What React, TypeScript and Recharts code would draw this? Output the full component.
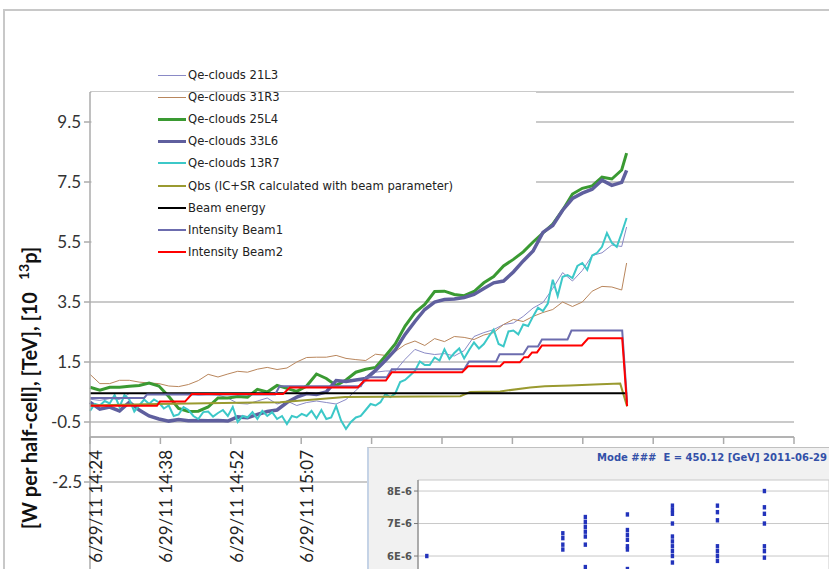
import React from "react";
import {
  LineChart,
  Line,
  XAxis,
  YAxis,
  CartesianGrid,
  ReferenceLine,
  ReferenceArea,
  Legend,
  ScatterChart,
  Scatter,
} from "recharts";

// time axis: minutes since 6/29/11 14:24
const xTicks = [0, 14.3, 28.6, 42.9, 57.2, 71.5, 85.8, 100.1, 114.4, 128.7, 143];
const xTickLabels = [
  "6/29/11 14:24",
  "6/29/11 14:38",
  "6/29/11 14:52",
  "6/29/11 15:07",
  "6/29/11 15:21",
  "6/29/11 15:35",
  "6/29/11 15:50",
  "6/29/11 16:04",
  "6/29/11 16:18",
  "6/29/11 16:33",
  "6/29/11 16:47",
];
const yTicks = [-0.5, 1.5, 3.5, 5.5, 7.5, 9.5];

// sample grids (2-minute and 1-minute)
const minutes2 = [...Array.from({ length: 55 }, (_, i) => i * 2), 109];
const minutes1 = Array.from({ length: 110 }, (_, i) => i);

const qe21L3 = [
  0.26, 0.22, 0.28, 0.25, 0.45, 0.45, 0.44, 0.44, 0.42, 0.44, 0.45, 0.4, 0.42, 0.4, 0.3, 0.12, 0.1, 0.2,
  0.3, 0.1, 0.2, 0.05, 0.15, 0.2, 0.15, 0.1, 0.25, 0.55, 0.85, 1.16, 1.2, 1.2, 1.59, 1.92, 1.8, 1.75, 1.78,
  1.7, 1.88, 2.35, 2.48, 2.58, 2.75, 2.8, 3.02, 3.3, 3.48, 3.95, 4.48, 4.2, 4.55, 5.05, 5.14, 5.4, 5.35, 6.0,
];
const qe31R3 = [
  1.09, 0.78, 0.78, 0.89, 0.89, 0.83, 0.8, 0.78, 0.7, 0.68, 0.75, 0.88, 1.09, 1.0, 1.1, 1.19, 1.16, 1.26,
  1.32, 1.25, 1.3, 1.5, 1.65, 1.66, 1.66, 1.72, 1.62, 1.58, 1.55, 1.76, 1.72, 1.85, 2.08, 2.2, 2.05, 2.28,
  2.18, 2.35, 2.32, 2.25, 2.4, 2.48, 2.75, 2.92, 2.85, 3.02, 3.15, 3.25, 3.5, 3.35, 3.5, 3.86, 4.02, 4.0,
  3.9, 4.8,
];
const qe25L4 = [
  0.66, 0.56, 0.66, 0.66, 0.69, 0.72, 0.8, 0.7, 0.35, -0.05, -0.15, -0.14, 0.0, 0.3, 0.3, 0.35, 0.33, 0.59,
  0.5, 0.72, 0.62, 0.52, 0.7, 1.1, 0.95, 0.72, 0.9, 1.16, 1.26, 1.32, 1.7, 2.1, 2.7, 3.15, 3.42, 3.85, 3.86,
  3.75, 3.71, 3.85, 4.14, 4.35, 4.7, 4.92, 5.17, 5.5, 5.8, 6.1, 6.56, 7.1, 7.29, 7.37, 7.66, 7.6, 7.9, 8.46,
];
const qe33L6 = [
  0.16, -0.07, 0.0, -0.13, 0.16, -0.1, -0.3, -0.4, -0.47, -0.42, -0.46, -0.45, -0.46, -0.45, -0.47, -0.33,
  -0.36, -0.25, -0.15, -0.1, 0.15, 0.33, 0.45, 0.42, 0.5, 0.88, 0.85, 0.9, 0.95, 1.22, 1.55, 1.9, 2.42, 2.85,
  3.25, 3.5, 3.58, 3.6, 3.65, 3.75, 3.95, 4.14, 4.2, 4.5, 4.87, 5.2, 5.82, 6.05, 6.56, 6.95, 7.13, 7.26, 7.56,
  7.39, 7.49, 7.89,
];
const qe13R7 = [
  -0.13, 0.1, 0.05, 0.2, 0.12, 0.4, 0.0, 0.4, 0.25, -0.15,
  0.05, 0.25, 0.1, 0.25, 0.15, -0.05, 0.05, -0.3, -0.25, 0.0,
  -0.1, -0.3, -0.4, -0.17, -0.15, -0.32, -0.2, -0.1, -0.3, 0.0,
  -0.5, -0.3, -0.35, -0.17, -0.4, -0.13, -0.3, -0.17, -0.4, -0.3,
  -0.57, -0.3, -0.35, -0.23, -0.3, -0.13, -0.38, -0.1, -0.4, -0.35,
  0.03, -0.45, -0.73, -0.5, -0.35, -0.3, -0.1, 0.1, 0.05, 0.16,
  0.43, 0.33, 0.45, 0.83, 0.9, 1.05, 1.2, 1.52, 1.4, 1.4,
  1.65, 1.55, 1.92, 1.6, 1.8, 1.95, 1.62, 1.9, 2.15, 1.95,
  2.1, 2.35, 2.58, 2.1, 2.02, 2.52, 2.55, 2.42, 2.75, 2.7,
  3.02, 3.31, 3.2, 3.45, 4.24, 3.7, 4.34, 4.4, 4.3, 4.7,
  4.8, 4.57, 5.05, 5.14, 5.34, 5.8, 5.47, 5.34, 5.8, 6.3,
];

const qbsT = [0, 13.6, 38.6, 51.8, 75.2, 77.2, 83.3, 89.4, 92.4, 97.5, 103.6, 107.7, 109.1];
const qbsV = [0.05, 0.1, 0.16, 0.33, 0.36, 0.5, 0.52, 0.65, 0.69, 0.72, 0.76, 0.78, 0.02];

const energyT = [0, 109.1];
const energyV = [0.46, 0.46];

const beam1T = [0, 11, 11.6, 37.6, 38.5, 55, 56, 60.3, 61.3, 76, 77, 82.5, 83.2, 88, 89, 91, 91.8, 97, 97.8, 108.1, 109.1];
const beam1V = [0.3, 0.3, 0.42, 0.42, 0.69, 0.69, 0.99, 0.99, 1.26, 1.26, 1.52, 1.52, 1.76, 1.76, 2.02, 2.02, 2.25, 2.25, 2.55, 2.55, 0.15];

const beam2T = [0, 13.6, 14.2, 19.3, 20.7, 39.2, 40.6, 54.4, 55.7, 60.1, 61.3, 75.6, 76.8, 83.3, 84.1, 87.3, 88.2, 89.0, 89.8, 90.8, 91.8, 99.9, 101.2, 108.1, 109.1];
const beam2V = [0.04, 0.04, 0.18, 0.18, 0.43, 0.43, 0.65, 0.65, 0.88, 0.88, 1.16, 1.16, 1.36, 1.36, 1.49, 1.49, 1.66, 1.66, 1.82, 1.82, 2.05, 2.05, 2.29, 2.29, 0.03];

// inset screenshot (values in units of 1E-6)
const insetX = [0.09, 1.48, 1.71, 2.14, 2.6, 3.06, 3.54];
const insetY = [
  [6.0],
  [6.7, 6.55, 6.35, 6.2],
  [7.2, 7.05, 6.9, 6.75, 6.6, 6.35, 5.66],
  [7.28, 6.8, 6.65, 6.5, 6.3, 6.2, 5.6],
  [7.55, 7.42, 7.3, 7.0, 6.6, 6.45, 6.3, 6.15, 6.0, 5.8],
  [7.55, 7.35, 7.1, 6.3, 6.15, 6.0, 5.85],
  [8.0, 7.5, 7.3, 7.0, 6.3, 6.15, 5.95],
];

const pts = (ts: number[], vs: number[]) => ts.map((t, i) => ({ t, v: vs[i] }));

const series = [
  { name: "Qe-clouds 21L3", data: pts(minutes2, qe21L3), color: "#8a8ac6", width: 1 },
  { name: "Qe-clouds 31R3", data: pts(minutes2, qe31R3), color: "#b9865c", width: 1 },
  { name: "Qe-clouds 25L4", data: pts(minutes2, qe25L4), color: "#3a9a32", width: 3 },
  { name: "Qe-clouds 33L6", data: pts(minutes2, qe33L6), color: "#5f5f9e", width: 3.5 },
  { name: "Qe-clouds 13R7", data: pts(minutes1, qe13R7), color: "#3cc8c8", width: 2 },
  { name: "Qbs (IC+SR calculated with beam parameter)", data: pts(qbsT, qbsV), color: "#9a9a30", width: 2 },
  { name: "Beam energy", data: pts(energyT, energyV), color: "#000000", width: 2 },
  { name: "Intensity Beam1", data: pts(beam1T, beam1V), color: "#6c6cae", width: 2 },
  { name: "Intensity Beam2", data: pts(beam2T, beam2V), color: "#ff0000", width: 2 },
];

const insetPts = insetX.flatMap((x, i) => insetY[i].map((y) => ({ x, y })));

const axisColor = "#ababab";
const gridColor = "#b9b9b9";

function XTick(props: any) {
  const { x, y, payload } = props;
  const i = xTicks.indexOf(payload.value);
  return (
    <text
      transform={`translate(${x + 12},${y + 4}) rotate(-90)`}
      textAnchor="end"
      fontFamily="Lato"
      fontSize={17}
      fill="#222"
    >
      {xTickLabels[i] ?? ""}
    </text>
  );
}

function YTitle() {
  return (
    <text
      transform="translate(37,388) rotate(-90)"
      textAnchor="middle"
      fontFamily="Lato"
      fontWeight="bold"
      fontSize={20}
      fill="#111"
    >
      [W per half-cell], [TeV], [10
      <tspan dx={12} dy={-8} fontSize={14}>
        13
      </tspan>
      <tspan dy={8} fontSize={20}>
        p]
      </tspan>
    </text>
  );
}

function MinusTick(props: any) {
  const vb = props.viewBox || {};
  return (
    <g>
      <line x1={vb.x - 6} x2={vb.x} y1={vb.y} y2={vb.y} stroke={axisColor} strokeWidth={1.5} />
      <text x={vb.x - 8} y={vb.y} dy="0.355em" textAnchor="end" fontFamily="Lato" fontSize={17} fill="#333">
        -2.5
      </text>
    </g>
  );
}

function LegendBox() {
  return (
    <div style={{ position: "relative", width: 445, height: 186 }}>
      {series.map((s, i) => (
        <div
          key={s.name}
          style={{
            position: "absolute",
            left: 67,
            top: 4 + i * 22.1,
            height: 18,
            display: "flex",
            alignItems: "center",
            fontFamily: "'DejaVu Sans'",
            fontSize: 11.6,
            color: "#222",
            whiteSpace: "nowrap",
          }}
        >
          <span
            style={{
              display: "inline-block",
              width: 28,
              height: Math.min(s.width, 3),
              background: s.color,
              marginRight: 2,
            }}
          />
          {s.name}
        </div>
      ))}
    </div>
  );
}

function InsetDot(props: any) {
  const { cx, cy } = props;
  return <rect x={cx - 1.7} y={cy - 2.2} width={3.4} height={4.4} fill="#2233bb" />;
}

export default function App() {
  return (
    <div
      style={{
        position: "absolute",
        left: 0,
        top: 0,
        width: 829,
        height: 569,
        overflow: "hidden",
        background: "#fff",
      }}
    >
      <div
        style={{
          position: "absolute",
          left: 3,
          top: 9,
          right: 0,
          bottom: 0,
          borderTop: "2px solid #c8c8c8",
          borderLeft: "2px solid #c8c8c8",
        }}
      />
      <div style={{ position: "absolute", left: 0, top: 0 }}>
        <LineChart width={829} height={569} margin={{ top: 92, right: 35, bottom: 0, left: 0 }}>
          <CartesianGrid vertical={false} stroke={gridColor} strokeWidth={1.5} />
          <XAxis
            type="number"
            dataKey="t"
            domain={[0, 143]}
            ticks={xTicks}
            interval={0}
            height={132}
            tickSize={7}
            axisLine={{ stroke: axisColor, strokeWidth: 1.5 }}
            tickLine={{ stroke: axisColor, strokeWidth: 1.5 }}
            tick={<XTick />}
          />
          <YAxis
            type="number"
            domain={[-1, 10.5]}
            ticks={yTicks}
            allowDataOverflow
            width={90}
            tickSize={6}
            tickMargin={3}
            axisLine={{ stroke: axisColor, strokeWidth: 1.5 }}
            tickLine={{ stroke: axisColor, strokeWidth: 1.5 }}
            tick={{ fontFamily: "Lato", fontSize: 17, fill: "#333" }}
            tickFormatter={(v: number) => v.toFixed(1)}
            label={<YTitle />}
          />
          {/* white legend panel hiding the grid behind the legend */}
          <ReferenceArea
            x1={0.3}
            x2={90.6}
            y1={5.3}
            y2={10.5}
            ifOverflow="visible"
            fill="#ffffff"
            fillOpacity={1}
            stroke="none"
          />
          <ReferenceLine y={-2.5} ifOverflow="visible" stroke={gridColor} strokeWidth={1.5} label={<MinusTick />} />
          <ReferenceLine
            segment={[
              { x: 0, y: -1 },
              { x: 0, y: -6 },
            ]}
            ifOverflow="visible"
            stroke={axisColor}
            strokeWidth={1.5}
          />
          {series.map((s) => (
            <Line
              key={s.name}
              data={s.data}
              dataKey="v"
              name={s.name}
              type="linear"
              stroke={s.color}
              strokeWidth={s.width}
              dot={false}
              activeDot={false}
              isAnimationActive={false}
            />
          ))}
          <Legend
            layout="vertical"
            align="center"
            verticalAlign="middle"
            content={<LegendBox />}
            wrapperStyle={{ position: "absolute", left: 91, top: 62, width: 445, height: 186 }}
          />
        </LineChart>
      </div>

      <div
        style={{
          position: "absolute",
          left: 367,
          top: 447,
          width: 462,
          height: 160,
          background: "#f1f1f1",
          borderTop: "1.5px solid #c0c0c0",
          borderLeft: "2px solid #c5d3e6",
        }}
      >
        <div
          style={{
            position: "absolute",
            right: 4,
            top: 4,
            fontFamily: "'DejaVu Sans'",
            fontWeight: "bold",
            fontSize: 10,
            color: "#3350a8",
            whiteSpace: "pre",
          }}
        >
          {"Mode ###  E = 450.12 [GeV] 2011-06-29"}
        </div>
        <ScatterChart width={460} height={160} margin={{ top: 32, right: 0, bottom: 0, left: 0 }}>
          <CartesianGrid fill="#fff" stroke="#c8c8c8" />
          <XAxis
            type="number"
            dataKey="x"
            domain={[0, 4.2]}
            ticks={[1, 2, 3, 4]}
            orientation="top"
            height={0}
            tick={false}
            tickLine={false}
            axisLine={{ stroke: "#777" }}
          />
          <YAxis
            type="number"
            dataKey="y"
            domain={[4.4, 8.34]}
            ticks={[6, 7, 8]}
            width={49}
            tickSize={4}
            axisLine={{ stroke: "#777" }}
            tickLine={{ stroke: "#777" }}
            tick={{ fontFamily: "'DejaVu Sans'", fontSize: 10, fontWeight: "bold", fill: "#555" }}
            tickFormatter={(v: number) => `${v}E-6`}
          />
          <Scatter data={insetPts} shape={<InsetDot />} isAnimationActive={false} />
        </ScatterChart>
      </div>
    </div>
  );
}
